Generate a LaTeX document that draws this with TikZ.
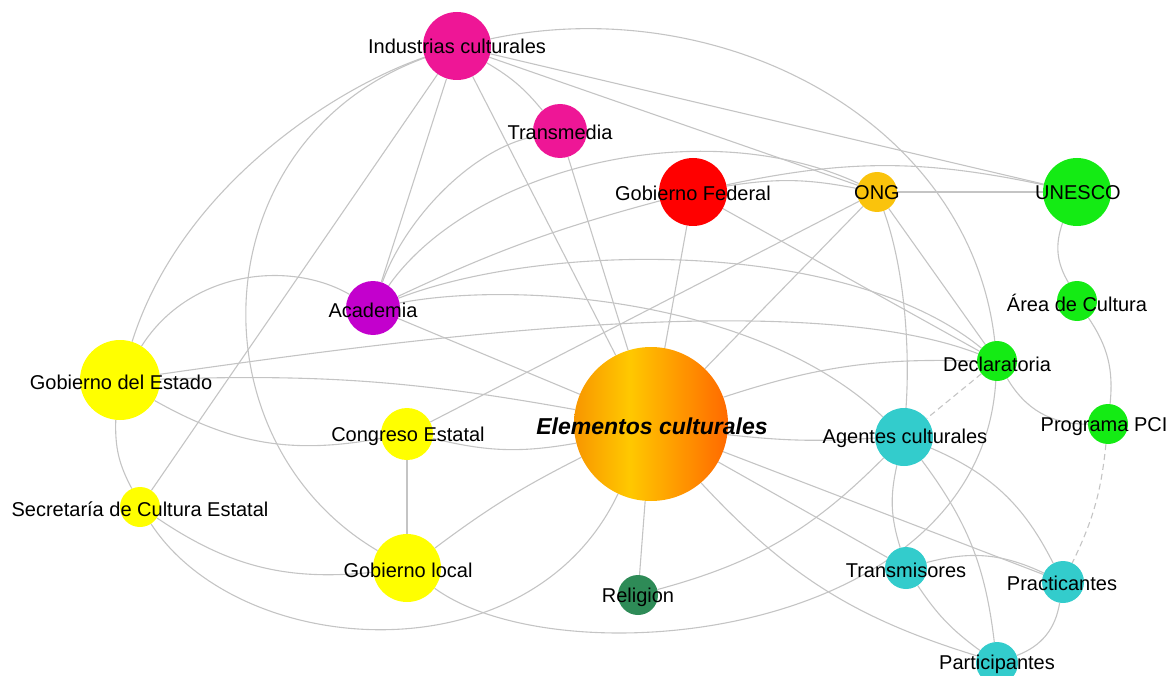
\documentclass[tikz,border=0pt]{standalone}
\usepackage{fontspec}
\setmainfont{Liberation Sans}
\definecolor{cMag}{RGB}{238,22,150}
\definecolor{cRed}{RGB}{255,0,0}
\definecolor{cOng}{RGB}{250,195,12}
\definecolor{cGrn}{RGB}{20,235,20}
\definecolor{cPur}{RGB}{195,0,205}
\definecolor{cYel}{RGB}{255,255,0}
\definecolor{cTeal}{RGB}{51,204,204}
\definecolor{cRel}{RGB}{46,139,87}
\definecolor{ecL}{RGB}{248,150,0}
\definecolor{ecM}{RGB}{255,200,0}
\definecolor{ecR}{RGB}{255,105,0}
\definecolor{edgegray}{RGB}{196,196,196}
\pgfdeclarehorizontalshading{ecshade}{100bp}{color(0bp)=(ecL); color(25bp)=(ecL); color(43bp)=(ecM); color(75bp)=(ecR); color(100bp)=(ecR)}
\pgfdeclarelayer{edges}
\pgfsetlayers{edges,main}
\tikzset{
  vtx/.style={circle,inner sep=0pt,draw=none,minimum size=2*#1},
  lbl/.style={inner sep=0pt,font=\fontsize{20}{24}\selectfont,text=black},
  edge/.style={draw=edgegray,line width=1.1pt},
  dsh/.style={edge,dash pattern=on 6pt off 4pt}
}
\begin{document}
\begin{tikzpicture}[x=1pt,y=-1pt]
\useasboundingbox (0,0) rectangle (1174,676);
% vertices
\node[vtx=34,fill=cMag] (IC) at (457,46) {};
\node[vtx=27,fill=cMag] (TM) at (560,131) {};
\node[vtx=34,fill=cRed] (GF) at (693,192) {};
\node[vtx=20,fill=cOng] (ONG) at (877,192) {};
\node[vtx=34,fill=cGrn] (UN) at (1077,192) {};
\node[vtx=20,fill=cGrn] (AR) at (1077,301) {};
\node[vtx=27,fill=cPur] (AC) at (373,308) {};
\node[vtx=20,fill=cGrn] (DE) at (997,361) {};
\node[vtx=40,fill=cYel] (GE) at (120,380) {};
\node[vtx=20,fill=cGrn] (PC) at (1108,424) {};
\node[vtx=26,fill=cYel] (CE) at (407,434) {};
\node[vtx=77,shade,shading=ecshade] (EC) at (651,424) {};
\node[vtx=29,fill=cTeal] (AG) at (904,437) {};
\node[vtx=20,fill=cYel] (SC) at (140,507) {};
\node[vtx=34,fill=cYel] (GL) at (407,568) {};
\node[vtx=20,fill=cRel] (RE) at (638,595) {};
\node[vtx=21,fill=cTeal] (TR) at (906,568) {};
\node[vtx=21,fill=cTeal] (PR) at (1063,582) {};
\node[vtx=21,fill=cTeal] (PA) at (997,663) {};
% labels
\node[lbl] (tIC) at (457,46) {Industrias culturales};
\node[lbl] (tTM) at (560,132) {Transmedia};
\node[lbl] (tGF) at (693,193) {Gobierno Federal};
\node[lbl] (tONG) at (877,193) {ONG};
\node[lbl] (tUN) at (1078,193) {UNESCO};
\node[lbl] (tAR) at (1077,303) {Área de Cultura};
\node[lbl] (tAC) at (373,310) {Academia};
\node[lbl] (tDE) at (997,364) {Declaratoria};
\node[lbl] (tGE) at (121,382) {Gobierno del Estado};
\node[lbl] (tPC) at (1104,427) {Programa PCI};
\node[lbl] (tCE) at (408,436) {Congreso Estatal};
\node[lbl,font=\fontsize{23}{27}\selectfont\bfseries\itshape] (tEC) at (652,426) {Elementos culturales};
\node[lbl] (tAG) at (905,438) {Agentes culturales};
\node[lbl] (tSC) at (140,509) {Secretaría de Cultura Estatal};
\node[lbl] (tGL) at (408,570) {Gobierno local};
\node[lbl] (tRE) at (638,597) {Religion};
\node[lbl] (tTR) at (906,570) {Transmisores};
\node[lbl] (tPR) at (1062,583) {Practicantes};
\node[lbl] (tPA) at (997,664) {Participantes};
% edges
\begin{pgfonlayer}{edges}
\draw[edge] (IC) to[bend left=10] (TM);
\draw[edge] (IC) -- (ONG);
\draw[edge] (IC) -- (UN);
\draw[edge] (IC) .. controls (720,-10) and (970,120) .. (DE);
\draw[edge] (IC) .. controls (330,90) and (180,190) .. (GE);
\draw[edge] (IC) .. controls (200,140) and (190,440) .. (GL);
\draw[edge] (IC) -- (SC);
\draw[edge] (IC) -- (AC);
\draw[edge] (IC) -- (EC);
\draw[edge] (TM) .. controls (470,150) and (405,220) .. (AC);
\draw[edge] (TM) -- (EC);
\draw[edge] (GF) to[bend right=5] (AC);
\draw[edge] (GF) -- (EC);
\draw[edge] (GF) to[bend left=10] (ONG);
\draw[edge] (GF) to[bend left=12] (UN);
\draw[edge] (GF) -- (DE);
\draw[edge] (AC) .. controls (470,170) and (700,110) .. (ONG);
\draw[edge] (AC) .. controls (550,240) and (850,240) .. (DE);
\draw[edge] (AC) -- (EC);
\draw[edge] (AC) .. controls (520,280) and (760,300) .. (AG);
\draw[edge] (GE) .. controls (190,270) and (290,260) .. (AC);
\draw[edge] (ONG) -- (UN);
\draw[edge] (ONG) -- (EC);
\draw[edge] (ONG) -- (DE);
\draw[edge] (ONG) .. controls (905,270) and (910,350) .. (AG);
\draw[edge] (CE) -- (ONG);
\draw[edge] (GE) to[bend left=6] (EC);
\draw[edge] (GE) to[bend right=20] (CE);
\draw[edge] (GE) to[bend right=15] (SC);
\draw[edge] (GE) .. controls (400,340) and (800,285) .. (DE);
\draw[edge] (SC) to[bend right=20] (GL);
\draw[edge] (SC) .. controls (240,660) and (530,680) .. (EC);
\draw[edge] (CE) -- (GL);
\draw[edge] (CE) to[bend right=12] (EC);
\draw[edge] (GL) to[bend left=5] (EC);
\draw[edge] (GL) .. controls (560,680) and (980,640) .. (DE);
\draw[edge] (RE) -- (EC);
\draw[edge] (RE) to[bend right=15] (AG);
\draw[edge] (EC) to[bend left=10] (DE);
\draw[edge] (EC) to[bend right=5] (AG);
\draw[edge] (EC) -- (PR);
\draw[edge] (EC) -- (TR);
\draw[edge] (EC) to[bend right=15] (PA);
\draw[edge] (UN) to[bend right=25] (AR);
\draw[edge] (AR) to[bend left=20] (PC);
\draw[edge] (DE) to[bend right=30] (PC);
\draw[dsh] (DE) -- (AG);
\draw[dsh] (PC) to[bend left=10] (PR);
\draw[edge] (AG) to[bend right=15] (TR);
\draw[edge] (AG) to[bend left=15] (PA);
\draw[edge] (AG) to[bend left=20] (PR);
\draw[edge] (TR) to[bend left=20] (PR);
\draw[edge] (TR) to[bend right=10] (PA);
\draw[edge] (PR) to[bend left=30] (PA);
\end{pgfonlayer}
\end{tikzpicture}
\end{document}
